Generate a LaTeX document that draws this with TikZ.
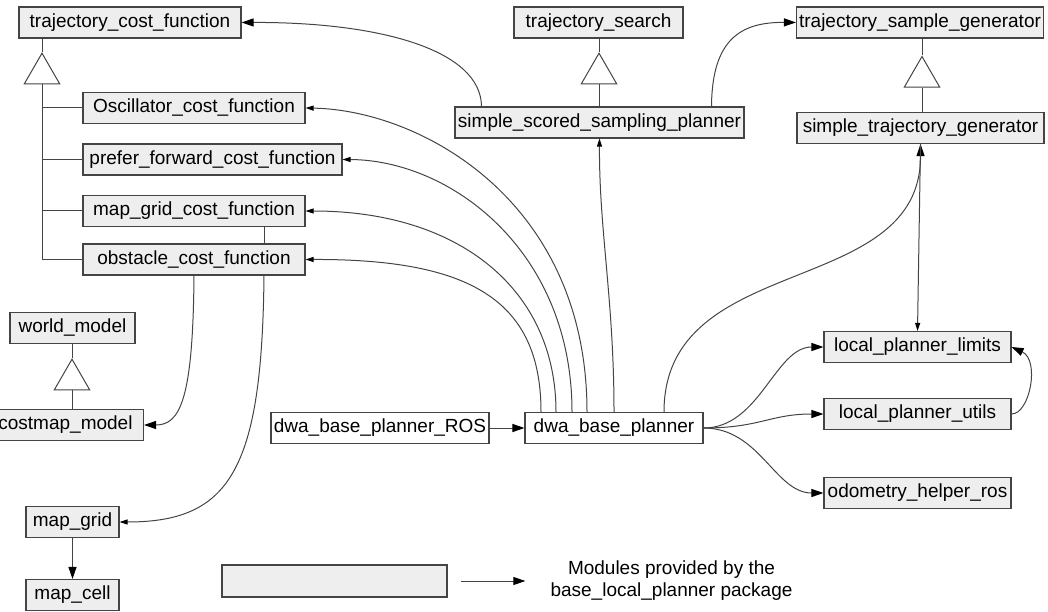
\documentclass[tikz,border=0pt]{standalone}
\usepackage[dvipsnames]{xcolor}
\usepackage{fontspec}
\setmainfont{Liberation Sans}
\usetikzlibrary{arrows.meta,shapes.geometric}
\definecolor{boxgray}{HTML}{EEEEEE}
\definecolor{linegray}{HTML}{444444}

\begin{document}
\begin{tikzpicture}[x=1pt,y=-1pt,>={Triangle[length=12pt,width=8pt,color=black]},
  module/.style={draw=linegray,fill=boxgray,line width=1.1pt,minimum height=31pt,inner xsep=2pt,inner ysep=0pt,font=\fontsize{19}{22}\selectfont},
  plain module/.style={module,fill=white},
  inherit/.style={regular polygon,regular polygon sides=3,draw=linegray,line width=1pt,fill=white,minimum size=41pt,inner sep=0pt},
  link/.style={draw=linegray,line width=1pt},
  smallhead/.style={-{Triangle[length=8pt,width=5pt,color=black]}}]

            \useasboundingbox (0,0) rectangle (1048,612);

            \node[module,minimum width=222pt] (tcf) at (130,22.5) {trajectory\_cost\_function};
            \node[inherit] (tcfTri) at (42,73.7) {};
            \node[module,minimum width=222pt] (osc) at (194,108) {Oscillator\_cost\_function};
            \node[module,minimum width=259pt] (pref) at (212.5,159.5) {prefer\_forward\_cost\_function};
            \node[module,minimum width=222pt] (mgcf) at (194,211) {map\_grid\_cost\_function};
            \node[module,minimum width=222pt] (obst) at (194,259.5) {obstacle\_cost\_function};

            \node[module,minimum width=125pt] (world) at (72.5,328) {world\_model};
            \node[inherit] (worldTri) at (72,379.7) {};
            \node[module,minimum width=156pt,anchor=east] (costmap) at (144,425) {costmap\_model};
            \node[module,minimum width=93pt] (mapgrid) at (72.5,522) {map\_grid};
            \node[module,minimum width=93pt] (mapcell) at (72.5,595) {map\_cell};

            \node[module,minimum width=169pt] (tsearch) at (598.5,22.5) {trajectory\_search};
            \node[inherit] (tsearchTri) at (599,73.7) {};
            \node[module,minimum width=289pt] (sssp) at (599.5,122.5) {simple\_scored\_sampling\_planner};

            \node[module,minimum width=247pt] (tsg) at (920,22.5) {trajectory\_sample\_generator};
            \node[inherit] (tsgTri) at (922,77) {};
            \node[module,minimum width=247pt] (stg) at (920.5,128) {simple\_trajectory\_generator};

            \node[plain module,minimum width=218pt] (ros) at (380,428) {dwa\_base\_planner\_ROS};
            \node[plain module,minimum width=178pt] (dwa) at (614,428) {dwa\_base\_planner};

            \node[module,minimum width=187pt] (limits) at (917.5,347) {local\_planner\_limits};
            \node[module,minimum width=187pt] (utils) at (917.5,414) {local\_planner\_utils};
            \node[module,minimum width=187pt] (odom) at (917.5,493) {odometry\_helper\_ros};

            \node[module,minimum width=225pt,minimum height=32pt] (legend) at (334.5,581) {};
            \node[align=center,inner sep=0pt,font=\fontsize{19}{22}\selectfont] (legendtxt) at (671.5,581) {Modules provided by the\\base\_local\_planner package};

            \coordinate (tcfBase) at (tcfTri.side 2);
            \coordinate (tsearchBase) at (tsearchTri.side 2);
            \coordinate (tsgBase) at (tsgTri.side 2);
            \coordinate (worldBase) at (worldTri.side 2);

            \draw[link] (tcf.south -| tcfTri) -- (tcfTri.corner 1);
            \draw[link] (tcfBase) -- (tcfBase |- obst.west) -- (obst.west);
            \foreach \n in {osc,pref,mgcf}
                \draw[link] (tcfBase |- \n.west) -- (\n.west);
            \draw[link] (tsearch.south -| tsearchTri) -- (tsearchTri.corner 1);
            \draw[link] (tsearchBase) -- (sssp.north -| tsearchBase);
            \draw[link] (tsg.south -| tsgTri) -- (tsgTri.corner 1);
            \draw[link] (tsgBase) -- (stg.north -| tsgBase);
            \draw[link] (world.south -| worldTri) -- (worldTri.corner 1);
            \draw[link] (worldBase) -- (costmap.north -| worldBase);

            \draw[link] ([xshift=70pt]mgcf.south) -- ([xshift=70pt]obst.north);

            \draw[link,smallhead] ([xshift=-73pt]dwa.north) .. controls (541,300) and (470,259) .. (obst.east);
            \draw[link,smallhead] ([xshift=-58pt]dwa.north) .. controls (556,290) and (460,211) .. (mgcf.east);
            \draw[link,smallhead] ([xshift=-42pt]dwa.north) .. controls (572,250) and (450,160) .. (pref.east);
            \draw[link,smallhead] ([xshift=-27pt]dwa.north) .. controls (587,200) and (420,110) .. (osc.east);
            \draw[link,smallhead] (dwa.north) .. controls (614,300) and (599,230) .. (sssp.south);
            \draw[link,->] ([xshift=50pt]dwa.north) .. controls (664,250) and (921,300) .. (stg.south);
            \draw[link,smallhead] (stg.south) -- (limits.north);

            \draw[link,->] (dwa.east) .. controls (760,428) and (775,347) .. (limits.west);
            \draw[link,->] (dwa.east) .. controls (760,428) and (770,414) .. (utils.west);
            \draw[link,->] (dwa.east) .. controls (760,428) and (775,493) .. (odom.west);
            \draw[link,->] (utils.east) .. controls (1030,414) and (1040,360) .. (limits.east);
            \draw[link,->] (ros) -- (dwa);

            \draw[link,->] ([xshift=-118pt]sssp.north) .. controls (481,50) and (380,22) .. (tcf.east);
            \draw[link,->] ([xshift=112pt]sssp.north) .. controls (712,40) and (740,22) .. (tsg.west);

            \draw[link,->] (obst.south) .. controls (193,400) and (180,425) .. (costmap.east);
            \draw[link,smallhead] ([xshift=70pt]obst.south) .. controls (262,470) and (230,522) .. (mapgrid.east);
            \draw[link,->] (mapgrid) -- (mapcell);

            \draw[link,->,shorten <=13pt,shorten >=25pt] (legend.east) -- (legendtxt.west);

            ;
        \end{tikzpicture}
\end{document}
